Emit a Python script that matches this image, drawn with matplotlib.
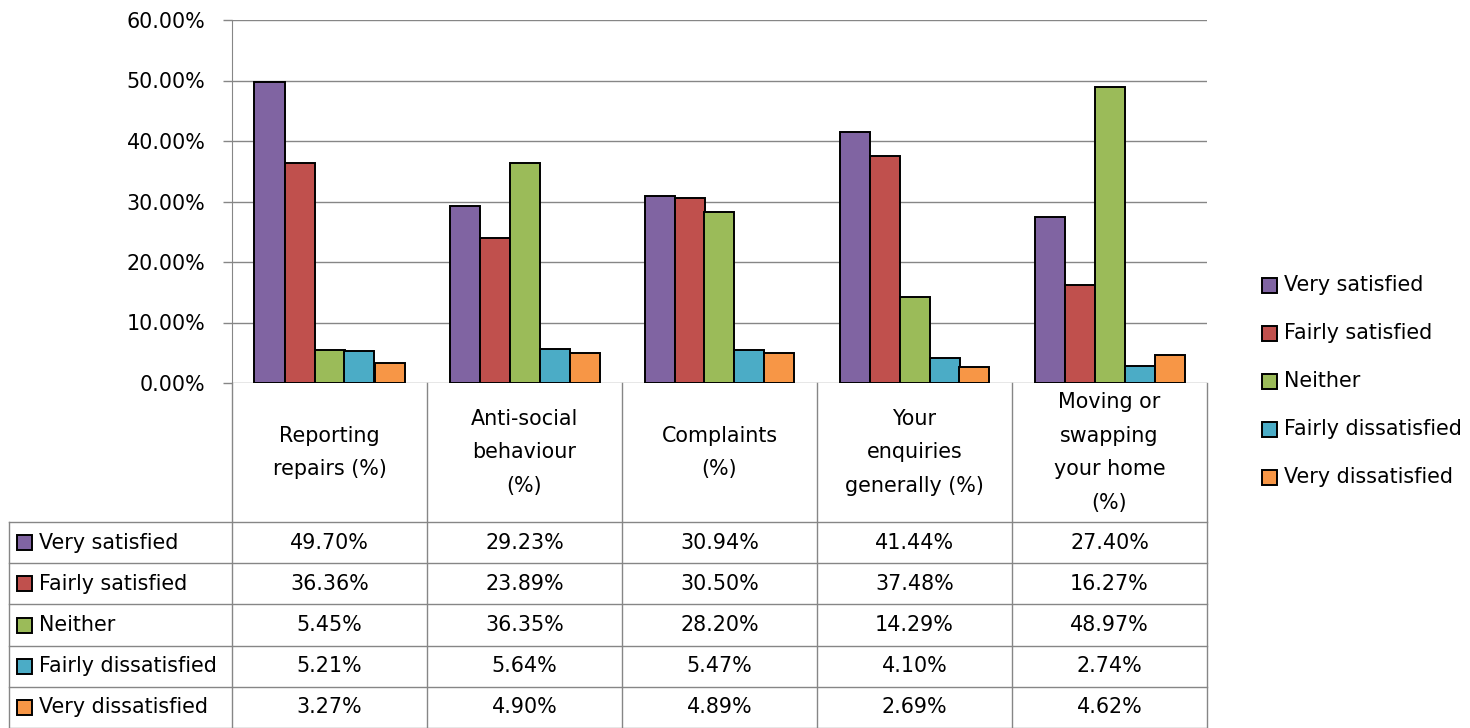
import matplotlib
matplotlib.use("Agg")
import matplotlib.pyplot as plt
from matplotlib.patches import Rectangle
from matplotlib.ticker import FuncFormatter

plt.rcParams['font.family'] = ['DejaVu Sans']

categories = ["Reporting\nrepairs (%)", "Anti-social\nbehaviour\n(%)", "Complaints\n(%)",
              "Your\nenquiries\ngenerally (%)", "Moving or\nswapping\nyour home\n(%)"]
series_names = ["Very satisfied", "Fairly satisfied", "Neither",
                "Fairly dissatisfied", "Very dissatisfied"]
very_satisfied = [49.70, 29.23, 30.94, 41.44, 27.40]
fairly_satisfied = [36.36, 23.89, 30.50, 37.48, 16.27]
neither = [5.45, 36.35, 28.20, 14.29, 48.97]
fairly_dissatisfied = [5.21, 5.64, 5.47, 4.10, 2.74]
very_dissatisfied = [3.27, 4.90, 4.89, 2.69, 4.62]
series_values = [very_satisfied, fairly_satisfied, neither, fairly_dissatisfied, very_dissatisfied]
colors = ['#8064A2', '#C0504D', '#9BBB59', '#4BACC6', '#F79646']

W, H = 1470, 728
fs = 14.9
grid_c = '#868686'
fig = plt.figure(figsize=(W / 100, H / 100), dpi=100)
ax = fig.add_axes([232 / W, (H - 383) / H, 975 / W, 363 / H])

bw = 30 / 195
for j, (name, vals) in enumerate(zip(series_names, series_values)):
    xs = [i + 0.5 + (j - 2) * bw for i in range(len(vals))]
    ax.bar(xs, vals, width=bw, color=colors[j], edgecolor='black', linewidth=1.4, zorder=3)

ax.set_xlim(0, 5)
ax.set_ylim(0, 60)
ax.set_yticks(range(0, 61, 10))
ax.yaxis.set_major_formatter(FuncFormatter(lambda v, p: f"{v:.2f}%"))
ax.set_xticks([])
ax.grid(axis='y', color=grid_c, linewidth=1.0, zorder=0)
for s in ['top', 'right', 'bottom']:
    ax.spines[s].set_visible(False)
ax.spines['left'].set_color(grid_c)
ax.tick_params(axis='y', length=6.5, color=grid_c, width=1.0, pad=12.5, labelsize=fs)

# overlay in pixel coordinates for data table and legend
ov = fig.add_axes([0, 0, 1, 1])
ov.set_xlim(0, W)
ov.set_ylim(H, 0)
ov.axis('off')

edges = [ax.transData.transform((i, 0))[0] for i in range(6)]
y0, y_head = 383, 522
row_h = (H - y_head) / 5
lkw = dict(color=grid_c, linewidth=1.0)

# table grid
for x in edges:
    ov.plot([x, x], [y0, H], **lkw)
ov.plot([9, 9], [y_head, H], **lkw)
for r in range(6):
    y = y_head + r * row_h
    ov.plot([9, edges[-1]], [y, y], **lkw)

for i, cat in enumerate(categories):
    cx = (edges[i] + edges[i + 1]) / 2
    ov.text(cx, (y0 + y_head) / 2, cat, ha='center', va='center', fontsize=fs,
            linespacing=1.85)

for r, (name, vals) in enumerate(zip(series_names, series_values)):
    cy = y_head + (r + 0.5) * row_h
    ov.add_patch(Rectangle((17, cy - 7.5), 15, 15, facecolor=colors[r],
                           edgecolor='black', linewidth=1.4))
    ov.text(39, cy, name, ha='left', va='center', fontsize=fs)
    for i, v in enumerate(vals):
        cx = (edges[i] + edges[i + 1]) / 2
        ov.text(cx, cy, f"{v:.2f}%", ha='center', va='center', fontsize=fs)

# legend
for r, name in enumerate(series_names):
    cy = 285 + 48 * r
    ov.add_patch(Rectangle((1262, cy - 7.5), 15, 15, facecolor=colors[r],
                           edgecolor='black', linewidth=1.4))
    ov.text(1284, cy, name, ha='left', va='center', fontsize=fs)

fig.savefig("out.png", dpi=100)
